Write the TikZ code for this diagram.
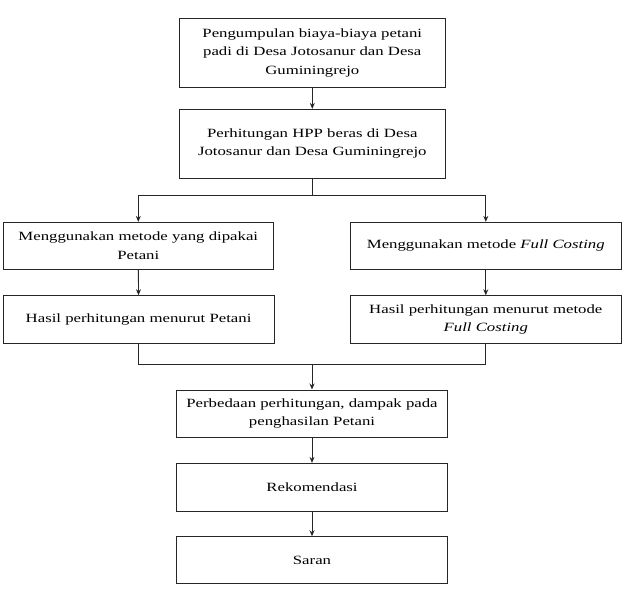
\documentclass[tikz,border=0pt]{standalone}
\usepackage{fontspec}
\setmainfont[FakeStretch=1.33]{Liberation Serif}
\usetikzlibrary{arrows.meta}
\begin{document}
\begin{tikzpicture}[x=1pt,y=-1pt,
  box/.style={draw=black!85,line width=0.9pt,align=center,inner sep=2pt,
    font=\fontsize{12.6}{18.3}\selectfont},
  arr/.style={draw=black!85,line width=0.9pt,-{Stealth[length=6pt,width=5pt]}},
  ln/.style={draw=black!85,line width=0.9pt}]
\useasboundingbox (0,0) rectangle (626,599);
\node[box,minimum width=266pt,minimum height=69pt] (b1) at (312.3,52.8)
  {Pengumpulan biaya-biaya petani\\padi di Desa Jotosanur dan Desa\\Guminingrejo};
\node[box,minimum width=266pt,minimum height=69pt] (b2) at (312.3,143.8)
  {Perhitungan HPP beras di Desa\\Jotosanur dan Desa Guminingrejo};
\node[box,minimum width=270pt,minimum height=47pt] (b3) at (138.3,245.8)
  {Menggunakan metode yang dipakai\\Petani};
\node[box,minimum width=271.7pt,minimum height=47pt] (b4) at (485.8,245.8)
  {Menggunakan metode \textit{Full Costing}};
\node[box,minimum width=270.7pt,minimum height=47.6pt] (b5) at (138.6,319.5)
  {Hasil perhitungan menurut Petani};
\node[box,minimum width=271.7pt,minimum height=47.6pt] (b6) at (485.8,319.5)
  {Hasil perhitungan menurut metode\\\textit{Full Costing}};
\node[box,minimum width=270.6pt,minimum height=47.7pt] (b7) at (312,413.8)
  {Perbedaan perhitungan, dampak pada\\penghasilan Petani};
\node[box,minimum width=270.6pt,minimum height=47.7pt] (b8) at (312,487.2)
  {Rekomendasi};
\node[box,minimum width=270.6pt,minimum height=46.6pt] (b9) at (312,560)
  {Saran};
\coordinate (split) at (312.3,195.7);
\coordinate (merge) at (312,364);
\draw[arr] (b1) -- (b2);
\draw[ln] (b2.south) -- (split);
\draw[arr] (split) -| (b3.north);
\draw[arr] (split) -| (b4.north);
\draw[arr] (b3) -- (b5);
\draw[arr] (b4) -- (b6);
\draw[ln] (b5.south) |- (merge);
\draw[ln] (b6.south) |- (merge);
\draw[arr] (merge) -- (b7.north);
\draw[arr] (b7) -- (b8);
\draw[arr] (b8) -- (b9);
\end{tikzpicture}
\end{document}
